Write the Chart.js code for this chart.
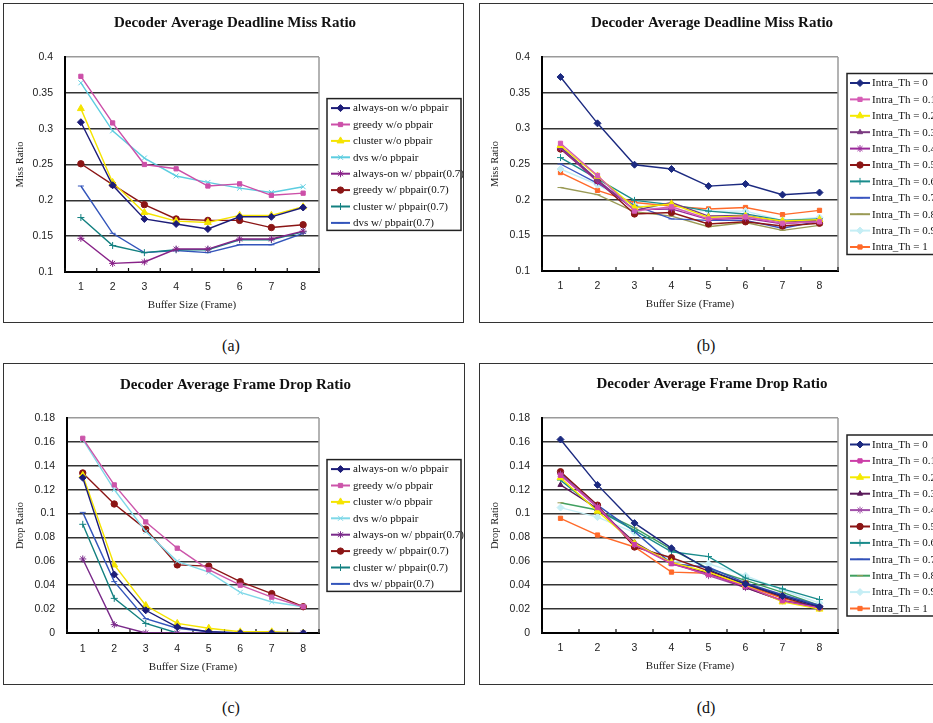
<!DOCTYPE html>
<html><head><meta charset="utf-8">
<script src="https://cdn.jsdelivr.net/npm/chart.js@4.4.1/dist/chart.umd.min.js"></script>
<style>
html,body{margin:0;padding:0;width:933px;height:723px;overflow:hidden;background:#fff;position:relative}
.box{position:absolute;border:1.5px solid #333;box-sizing:border-box}
canvas{position:absolute}
.cap{position:absolute;font-family:"Liberation Serif",serif;font-size:16px;color:#111;transform:translate(-50%,-50%);white-space:nowrap}
</style></head><body>
<div class="box" style="left:3px;top:3px;width:461px;height:320px"></div>
<div class="box" style="left:479px;top:3px;width:470px;height:320px"></div>
<div class="box" style="left:3px;top:363px;width:462px;height:322px"></div>
<div class="box" style="left:479px;top:363px;width:470px;height:322px"></div>
<canvas id="ca" width="460" height="320" style="left:3px;top:3px"></canvas>
<canvas id="cb" width="462" height="320" style="left:479px;top:3px"></canvas>
<canvas id="cc" width="461" height="321" style="left:3px;top:363px"></canvas>
<canvas id="cd" width="462" height="321" style="left:479px;top:363px"></canvas>
<div class="cap" style="left:231px;top:346px">(a)</div>
<div class="cap" style="left:706px;top:346px">(b)</div>
<div class="cap" style="left:231px;top:708px">(c)</div>
<div class="cap" style="left:706px;top:708px">(d)</div>
<script>
// ---------- data ----------
const bufferSizes = ['1','2','3','4','5','6','7','8'];
const policyNames = ['always-on w/o pbpair','greedy w/o pbpair','cluster w/o pbpair','dvs w/o pbpair',
  'always-on w/ pbpair(0.7)','greedy w/ pbpair(0.7)','cluster w/ pbpair(0.7)','dvs w/ pbpair(0.7)'];
const intraNames = ['Intra_Th = 0','Intra_Th = 0.1','Intra_Th = 0.2','Intra_Th = 0.3','Intra_Th = 0.4',
  'Intra_Th = 0.5','Intra_Th = 0.6','Intra_Th = 0.7','Intra_Th = 0.8','Intra_Th = 0.9','Intra_Th = 1'];
const missTicks = [0.1, 0.15, 0.2, 0.25, 0.3, 0.35, 0.4];
const dropTicks = [0, 0.02, 0.04, 0.06, 0.08, 0.1, 0.12, 0.14, 0.16, 0.18];

// (a) deadline miss ratio by policy
const missAlwaysOnNoPair = [0.309,0.221,0.174,0.167,0.160,0.177,0.177,0.190];
const missGreedyNoPair   = [0.373,0.308,0.250,0.244,0.220,0.223,0.207,0.210];
const missClusterNoPair  = [0.328,0.225,0.183,0.171,0.169,0.179,0.179,0.191];
const missDvsNoPair      = [0.364,0.297,0.259,0.234,0.225,0.217,0.211,0.219];
const missAlwaysOnPair   = [0.147,0.112,0.114,0.132,0.132,0.146,0.146,0.157];
const missGreedyPair     = [0.251,0.222,0.194,0.174,0.172,0.172,0.162,0.166];
const missClusterPair    = [0.176,0.137,0.127,0.131,0.131,0.145,0.145,0.156];
const missDvsPair        = [0.220,0.154,0.127,0.130,0.127,0.138,0.138,0.154];

// (b) deadline miss ratio by Intra_Th
const missTh00 = [0.372,0.307,0.249,0.243,0.219,0.222,0.207,0.210];
const missTh01 = [0.279,0.234,0.184,0.190,0.173,0.176,0.167,0.169];
const missTh02 = [0.276,0.233,0.189,0.194,0.175,0.177,0.170,0.172];
const missTh03 = [0.274,0.228,0.185,0.196,0.177,0.178,0.169,0.171];
const missTh04 = [0.272,0.225,0.186,0.187,0.172,0.174,0.166,0.170];
const missTh05 = [0.271,0.227,0.180,0.182,0.166,0.169,0.163,0.167];
const missTh06 = [0.259,0.229,0.199,0.193,0.184,0.180,0.171,0.173];
const missTh07 = [0.250,0.223,0.192,0.173,0.171,0.171,0.160,0.170];
const missTh08 = [0.217,0.207,0.183,0.177,0.162,0.168,0.157,0.164];
const missTh09 = [0.243,0.221,0.192,0.185,0.184,0.184,0.171,0.175];
const missTh10 = [0.238,0.213,0.196,0.191,0.187,0.189,0.179,0.185];

// (c) frame drop ratio by policy
const dropAlwaysOnNoPair = [0.130,0.049,0.019,0.005,0.001,0,0,0];
const dropGreedyNoPair   = [0.163,0.124,0.093,0.071,0.053,0.040,0.030,0.022];
const dropClusterNoPair  = [0.132,0.057,0.023,0.008,0.004,0.001,0.001,0];
const dropDvsNoPair      = [0.162,0.120,0.085,0.060,0.051,0.034,0.026,0.022];
const dropAlwaysOnPair   = [0.062,0.007,0,0,0,0,0,0];
const dropGreedyPair     = [0.134,0.108,0.087,0.057,0.056,0.043,0.033,0.022];
const dropClusterPair    = [0.091,0.029,0.008,0,0,0,0,0];
const dropDvsPair        = [0.101,0.043,0.012,0.004,0.001,0,0,0];

// (d) frame drop ratio by Intra_Th
const dropTh00 = [0.162,0.124,0.092,0.071,0.053,0.041,0.031,0.022];
const dropTh01 = [0.132,0.105,0.074,0.058,0.049,0.039,0.027,0.021];
const dropTh02 = [0.130,0.102,0.075,0.059,0.051,0.040,0.026,0.020];
const dropTh03 = [0.124,0.104,0.076,0.058,0.050,0.038,0.027,0.022];
const dropTh04 = [0.133,0.106,0.074,0.059,0.048,0.038,0.027,0.021];
const dropTh05 = [0.135,0.107,0.072,0.063,0.052,0.041,0.030,0.021];
const dropTh06 = [0.128,0.103,0.086,0.068,0.064,0.046,0.037,0.028];
const dropTh07 = [0.134,0.107,0.085,0.058,0.055,0.042,0.032,0.023];
const dropTh08 = [0.109,0.103,0.088,0.070,0.054,0.044,0.034,0.023];
const dropTh09 = [0.105,0.097,0.084,0.060,0.058,0.048,0.036,0.025];
const dropTh10 = [0.096,0.082,0.072,0.051,0.050,0.040,0.029,0.021];

// ---------- styles ----------
const policyColorsA = ['#1c1c78','#cc4fa8','#f5e400','#5ccde0','#882288','#8b1515','#138080','#3355bb'];
const policyColorsC = ['#1c1c78','#cc55aa','#f5e400','#7fd8e8','#7a2a8a','#8b1515','#138080','#3355bb'];
const policyPoints  = ['rectRot','rect','triangle','crossRot','star','circle','cross','line'];
const policyRadius  = [3.5,3,4,3.5,3.5,3.2,3.5,3];
const intraColorsB = ['#1c2a80','#d65cb5','#f5ea00','#7a3a80','#9a2a9a','#8b1515','#1a8c8c','#3a55c0','#9a9a55','#c5eef5','#ff6a2a'];
const intraColorsD = ['#1c2a80','#cc3fa8','#f5ea00','#5a1a5a','#a050a8','#8b1515','#1a8c8c','#3050b8','#40a060','#c5eef5','#ff6a2a'];
const intraMarkerD = ['#1c2a80','#cc3fa8','#f5ea00','#5a1a5a','#a050a8','#8b1515','#1a8c8c','#3050b8','#9a9a55','#c5eef5','#ff6a2a'];
const intraPoints = ['rectRot','rect','triangle','triangle','star','circle','cross','line','line','rectRot','rect'];
const intraRadius = [3.5,3,4,3,3.5,3.2,3.5,3,3,3.5,3];

Chart.defaults.font.family = '"Liberation Sans", Arial, sans-serif';
Chart.defaults.color = '#222';

function drawMarker(ctx, style, r, x, y) {
  if (Chart.helpers && Chart.helpers.drawPoint) {
    Chart.helpers.drawPoint(ctx, {pointStyle: style, radius: r, rotation: 0, borderWidth: 1}, x, y);
  } else {
    ctx.beginPath(); ctx.arc(x, y, r, 0, Math.PI * 2); ctx.fill(); ctx.stroke();
  }
}

const panelDecor = {
  id: 'panelDecor',
  beforeDatasetsDraw(chart) {
    const {ctx, chartArea: a} = chart;
    const x = chart.scales.x;
    ctx.save();
    ctx.strokeStyle = '#9a9a9a'; ctx.lineWidth = 1.5;
    ctx.beginPath(); ctx.moveTo(a.right, a.top); ctx.lineTo(a.right, a.bottom); ctx.stroke();
    ctx.strokeStyle = '#111'; ctx.lineWidth = 1.2;
    for (let i = 0; i <= x.ticks.length; i++) {
      const px = x.getPixelForValue(i - 0.5);
      ctx.beginPath(); ctx.moveTo(px, a.bottom); ctx.lineTo(px, a.bottom - 4); ctx.stroke();
    }
    ctx.restore();
  },
  afterDraw(chart, args, opt) {
    const {ctx, chartArea: a} = chart;
    const dsets = chart.data.datasets;
    const n = dsets.length;
    const h = opt.firstRow + (n - 1) * opt.row + opt.bottomPad;
    const left = a.right + opt.offset;
    const top = (a.top + a.bottom) / 2 - h / 2;
    ctx.save();
    ctx.fillStyle = '#fff';
    ctx.fillRect(left, top, opt.width, h);
    ctx.strokeStyle = '#222'; ctx.lineWidth = 1.5;
    ctx.strokeRect(left, top, opt.width, h);
    ctx.font = '11px "Liberation Serif", serif';
    ctx.textBaseline = 'middle';
    dsets.forEach((ds, i) => {
      const y = top + opt.firstRow + i * opt.row;
      ctx.strokeStyle = ds.borderColor; ctx.lineWidth = 2;
      ctx.beginPath(); ctx.moveTo(left + opt.lineStart, y); ctx.lineTo(left + opt.lineEnd, y); ctx.stroke();
      ctx.fillStyle = ds.pointBackgroundColor; ctx.strokeStyle = ds.pointBorderColor; ctx.lineWidth = 1;
      drawMarker(ctx, ds.pointStyle, ds.pointRadius, left + (opt.lineStart + opt.lineEnd) / 2, y);
      ctx.fillStyle = '#111';
      ctx.fillText(ds.label, left + opt.textX, y + 0.5);
    });
    ctx.restore();
  }
};

function buildDatasets(names, series, colors, markerColors, points, radii) {
  return names.map((name, i) => ({
    label: name,
    data: series[i],
    borderColor: colors[i],
    backgroundColor: markerColors[i],
    pointBackgroundColor: markerColors[i],
    pointBorderColor: markerColors[i],
    pointStyle: points[i],
    pointRadius: radii[i],
    pointBorderWidth: 1,
    borderWidth: 1.4,
    tension: 0,
    fill: false
  }));
}

function makeChart(id, g, title, yTitle, tickValues, datasets) {
  const tmin = tickValues[0], tmax = tickValues[tickValues.length - 1];
  return new Chart(document.getElementById(id), {
    type: 'line',
    data: {labels: bufferSizes, datasets},
    plugins: [panelDecor],
    options: {
      responsive: false, animation: false, devicePixelRatio: 1,
      layout: {padding: {left: 4, top: 0, right: 0, bottom: 0}},
      plugins: {
        legend: {display: false},
        tooltip: {enabled: false},
        title: {display: true, text: title, color: '#111', fullSize: true,
          font: {family: '"Liberation Serif", serif', size: 15, weight: 'bold', lineHeight: 1.2},
          padding: {top: g.titleTop, bottom: g.titleBottom}},
        panelDecor: g.legend
      },
      scales: {
        x: {
          type: 'category', offset: true,
          grid: {display: true, drawOnChartArea: false, drawTicks: false},
          border: {display: true, color: '#000', width: 2},
          ticks: {padding: g.xPad, font: {size: 10.5}, color: '#222'},
          title: {display: true, text: 'Buffer Size (Frame)', color: '#222',
            font: {family: '"Liberation Serif", serif', size: 11, lineHeight: 1.2},
            padding: {top: 0, bottom: g.xTitleBottom}},
          afterFit: s => { s.height = g.xHeight; }
        },
        y: {
          min: tmin, max: tmax,
          afterBuildTicks: s => { s.ticks = tickValues.map(v => ({value: v})); },
          grid: {drawTicks: false, lineWidth: 1.5,
            color: c => (c.tick && c.tick.value === tmax) ? '#9a9a9a' : '#333'},
          border: {display: true, color: '#000', width: 2},
          ticks: {padding: 12, font: {size: 10.5}, color: '#222',
            callback: v => String(+Number(v).toFixed(2))},
          title: {display: true, text: yTitle, color: '#222',
            font: {family: '"Liberation Serif", serif', size: 10.5, lineHeight: 1.2},
            padding: {top: g.yTitlePad, bottom: 0}},
          afterFit: s => { s.width = g.yWidth; }
        },
        legendSpace: {
          type: 'linear', position: 'right', display: true,
          grid: {display: false, drawOnChartArea: false, drawTicks: false},
          border: {display: false},
          ticks: {display: false},
          afterFit: s => { s.width = g.right; }
        }
      }
    }
  });
}

const legendPolicy = {offset: 8, width: 134, firstRow: 9.5, row: 16.4, bottomPad: 7.5, lineStart: 4, lineEnd: 23, textX: 26};
const legendIntra  = {offset: 9, width: 140, firstRow: 9.5, row: 16.4, bottomPad: 7.5, lineStart: 3, lineEnd: 23, textX: 25};

makeChart('ca', {right: 144, titleTop: 11, titleBottom: 25, yWidth: 58, yTitlePad: 6.7, xHeight: 51, xPad: 8.7, xTitleBottom: 11.4, legend: legendPolicy},
  'Decoder Average Deadline Miss Ratio', 'Miss Ratio', missTicks,
  buildDatasets(policyNames,
    [missAlwaysOnNoPair, missGreedyNoPair, missClusterNoPair, missDvsNoPair, missAlwaysOnPair, missGreedyPair, missClusterPair, missDvsPair],
    policyColorsA, policyColorsA, policyPoints, policyRadius));

makeChart('cb', {right: 103, titleTop: 11, titleBottom: 25, yWidth: 59, yTitlePad: 6.4, xHeight: 52, xPad: 8.7, xTitleBottom: 12.4, legend: legendIntra},
  'Decoder Average Deadline Miss Ratio', 'Miss Ratio', missTicks,
  buildDatasets(intraNames,
    [missTh00, missTh01, missTh02, missTh03, missTh04, missTh05, missTh06, missTh07, missTh08, missTh09, missTh10],
    intraColorsB, intraColorsB, intraPoints, intraRadius));

makeChart('cc', {right: 145, titleTop: 13, titleBottom: 24, yWidth: 60, yTitlePad: 7.4, xHeight: 51, xPad: 9.7, xTitleBottom: 10.4, legend: legendPolicy},
  'Decoder Average Frame Drop Ratio', 'Drop Ratio', dropTicks,
  buildDatasets(policyNames,
    [dropAlwaysOnNoPair, dropGreedyNoPair, dropClusterNoPair, dropDvsNoPair, dropAlwaysOnPair, dropGreedyPair, dropClusterPair, dropDvsPair],
    policyColorsC, policyColorsC, policyPoints, policyRadius));

makeChart('cd', {right: 103, titleTop: 12, titleBottom: 25, yWidth: 59, yTitlePad: 6.4, xHeight: 51, xPad: 8.7, xTitleBottom: 11.4, legend: legendIntra},
  'Decoder Average Frame Drop Ratio', 'Drop Ratio', dropTicks,
  buildDatasets(intraNames,
    [dropTh00, dropTh01, dropTh02, dropTh03, dropTh04, dropTh05, dropTh06, dropTh07, dropTh08, dropTh09, dropTh10],
    intraColorsD, intraMarkerD, intraPoints, intraRadius));
</script>
</body></html>
